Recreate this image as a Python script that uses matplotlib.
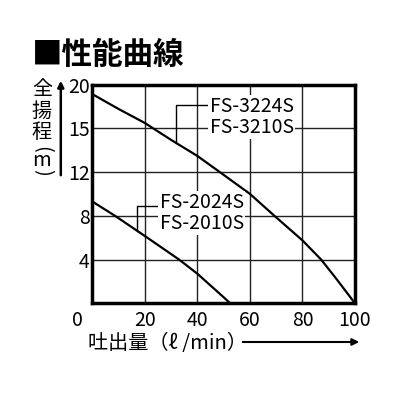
import numpy as np
import matplotlib
matplotlib.use("Agg")
import matplotlib.pyplot as plt
from matplotlib.patches import FancyArrowPatch

plt.rcParams['font.family'] = ['Noto Sans CJK JP', 'DejaVu Sans']

# flow (l/min) vs head (m)
flow_big = [0, 10, 20, 23.1, 30, 40, 48.5, 60, 69.3, 80, 87.1, 92.7, 100]
head_big = [18.9, 17.2, 15.6, 15.0, 14.2, 13.1, 12.0, 10.0, 8.0, 5.75, 4.0, 2.3, 0.0]
flow_small = [0, 8.6, 20, 33.0, 40, 50, 52.5]
head_small = [9.3, 8.0, 6.15, 4.0, 2.7, 0.55, 0.0]

labels_big = "FS-3224S\nFS-3210S"
labels_small = "FS-2024S\nFS-2010S"
# (char, rotation) stacked top to bottom
ylabel_chars = [("全", 0), ("揚", 0), ("程", 0), ("(", 270), ("m", 0), (")", 270)]

x_ticks = [20, 40, 60, 80, 100]
y_ticks = [4, 8, 12, 15, 20]
y_steps = [0, 4, 8, 12, 15, 20]


def fwd(y):
    return np.interp(y, y_steps, np.arange(len(y_steps)))


def inv(p):
    return np.interp(p, np.arange(len(y_steps)), y_steps)


fig = plt.figure(figsize=(4, 4), dpi=100)
ax = fig.add_axes([0.231, 0.2417, 0.6565, 0.547])
ax.set_yscale('function', functions=(fwd, inv))
ax.set_xlim(0, 100)
ax.set_ylim(0, 20)

ax.set_xticks(x_ticks)
ax.set_yticks(y_ticks)
ax.tick_params(length=0, labelsize=14)
ax.tick_params(axis='y', pad=2)
ax.tick_params(axis='x', pad=5)
ax.minorticks_off()
ax.grid(True, color='#222222', lw=1.0)
for s in ax.spines.values():
    s.set_linewidth(2.5)

ax.plot(flow_big, head_big, color='black', lw=1.6, zorder=3)
ax.plot(flow_small, head_small, color='black', lw=1.6, zorder=3)

# leaders + labels
ax.plot([32, 32, 44.5], [14.0, 17.66, 17.66], color='black', lw=1, zorder=3)
ax.plot([16.8, 16.8, 25.5], [6.65, 8.9, 8.9], color='black', lw=1, zorder=3)
ax.text(44.6, 16.3, labels_big, fontsize=14, va='center', ha='left',
        linespacing=1.0, zorder=4,
        bbox=dict(facecolor='white', edgecolor='none', pad=1))
ax.text(25.6, 8.25, labels_small, fontsize=14, va='center', ha='left',
        linespacing=1.0, zorder=4,
        bbox=dict(facecolor='white', edgecolor='none', pad=1))

# shared origin label
ax.annotate("0", xy=(0, 0), xytext=(-6.5, -5), textcoords='offset points',
            fontsize=14, ha='right', va='top')

# title
fig.text(0.08, 0.862, "■性能曲線", fontsize=22, fontweight='bold',
         va='center', ha='left')

# y label (vertical, one char per row) with arrow
ylab_y = [90, 111, 133, 149, 160, 172]
for (ch, rot), py in zip(ylabel_chars, ylab_y):
    fig.text(0.105, 1 - py / 400, ch, fontsize=14.5, ha='center',
             va='center', rotation=rot)
fig.add_artist(FancyArrowPatch(
    (0.152, 0.555), (0.152, 0.805), transform=fig.transFigure,
    arrowstyle='-|>', mutation_scale=9, lw=1.8, color='black'))

# x label with arrow
fig.text(0.22, 0.142, "吐出量（ℓ /min）", fontsize=14.5, ha='left', va='center')
fig.add_artist(FancyArrowPatch(
    (0.60, 0.145), (0.905, 0.145), transform=fig.transFigure,
    arrowstyle='-|>', mutation_scale=10, lw=1.5, color='black'))

fig.savefig("out.png", dpi=100)
